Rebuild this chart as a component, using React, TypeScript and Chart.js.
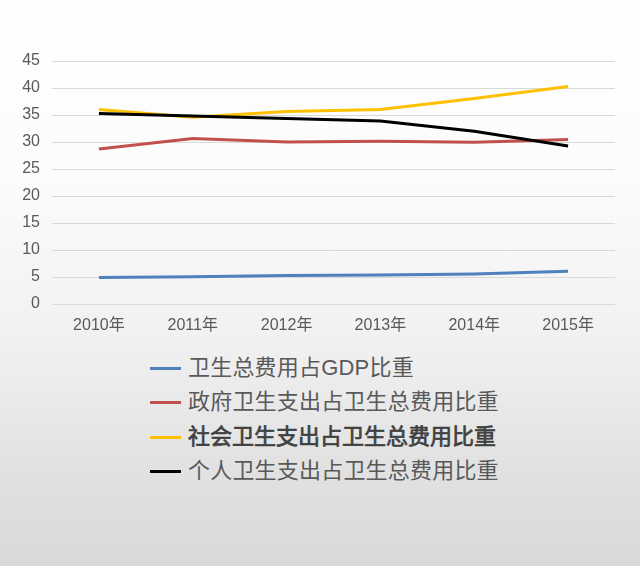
import React, { useEffect, useRef } from "react";
import { Chart, registerables } from "chart.js";

Chart.register(...registerables);

const categories = ["2010年", "2011年", "2012年", "2013年", "2014年", "2015年"];
const seriesNames = [
  "卫生总费用占GDP比重",
  "政府卫生支出占卫生总费用比重",
  "社会卫生支出占卫生总费用比重",
  "个人卫生支出占卫生总费用比重",
];
const gdpShare = [4.89, 5.03, 5.26, 5.39, 5.55, 6.05];
const govShare = [28.69, 30.66, 29.99, 30.14, 29.96, 30.45];
const socialShare = [36.02, 34.57, 35.67, 36.0, 38.05, 40.29];
const personalShare = [35.29, 34.8, 34.34, 33.88, 31.99, 29.27];
const yTicks = [0, 5, 10, 15, 20, 25, 30, 35, 40, 45];

const colors = ["#4F81BD", "#C0504D", "#FFC000", "#000000"];
const boldFlags = [false, false, true, false];

export default function App() {
  const canvasRef = useRef<HTMLCanvasElement | null>(null);

  useEffect(() => {
    document.body.style.margin = "0";
    const ctx = canvasRef.current;
    if (!ctx) return;
    const values = [gdpShare, govShare, socialShare, personalShare];
    const chart = new Chart(ctx, {
      type: "line",
      data: {
        labels: categories,
        datasets: values.map((v, i) => ({
          label: seriesNames[i],
          data: v,
          borderColor: colors[i],
          backgroundColor: colors[i],
          borderWidth: 3,
          pointRadius: 0,
          pointHoverRadius: 0,
          tension: 0,
          fill: false,
          order: i === 3 ? -1 : i,
        })),
      },
      options: {
        responsive: false,
        animation: false,
        layout: { padding: { top: 61, right: 25, left: 0, bottom: 0 } },
        plugins: {
          legend: { display: false },
          tooltip: { enabled: false },
        },
        scales: {
          x: {
            type: "category",
            offset: true,
            grid: { display: false, drawTicks: false },
            border: { display: false },
            ticks: {
              color: "#595959",
              padding: 12,
              maxRotation: 0,
              font: { size: 16, family: "'Liberation Sans', 'Noto Sans CJK SC', sans-serif" },
            },
            afterFit: (s: any) => {
              s.height = 46;
            },
          },
          y: {
            min: 0,
            max: 45,
            afterBuildTicks: (s: any) => {
              s.ticks = yTicks.map((v) => ({ value: v }));
            },
            grid: { color: "#D9D9D9", lineWidth: 1, drawTicks: false },
            border: { display: false },
            ticks: {
              color: "#595959",
              padding: 12,
              font: { size: 16, family: "'Liberation Sans', sans-serif" },
            },
            afterFit: (s: any) => {
              s.width = 52;
            },
          },
        },
      },
    });
    return () => chart.destroy();
  }, []);

  const rowCenters = [368, 402, 437, 471];

  return (
    <div
      style={{
        position: "fixed",
        left: 0,
        top: 0,
        width: 640,
        height: 566,
        overflow: "hidden",
        background:
          "linear-gradient(to bottom, #ffffff 0%, #fcfcfc 30%, #f1f1f1 60%, #e3e3e4 80%, #d9d9db 100%)",
      }}
    >
      <canvas
        ref={canvasRef}
        width={640}
        height={350}
        style={{ position: "absolute", left: 0, top: 0, width: 640, height: 350 }}
      />
      {seriesNames.map((name, i) => (
        <div
          key={name}
          style={{
            position: "absolute",
            left: 150,
            top: rowCenters[i] - 17,
            height: 34,
            display: "flex",
            alignItems: "center",
            whiteSpace: "nowrap",
          }}
        >
          <span
            style={{
              display: "inline-block",
              width: 31,
              height: 3,
              background: colors[i],
              marginRight: 7,
            }}
          />
          <span
            style={{
              fontFamily: "'Liberation Sans', 'Noto Sans CJK SC', sans-serif",
              fontSize: 22,
              lineHeight: "34px",
              letterSpacing: boldFlags[i] ? 0 : 0.2,
              color: boldFlags[i] ? "#404040" : "#595959",
              fontWeight: 400,
              WebkitTextStroke: boldFlags[i] ? "0.7px #404040" : undefined,
            }}
          >
            {name}
          </span>
        </div>
      ))}
    </div>
  );
}
